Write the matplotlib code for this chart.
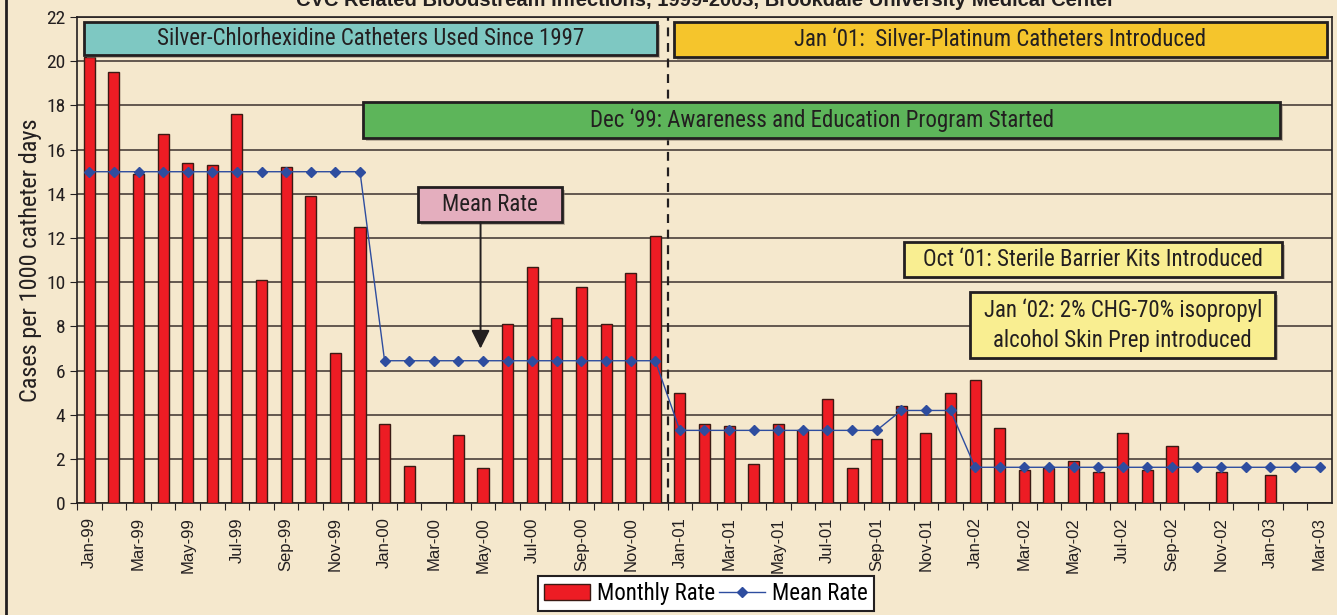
import numpy as np
import pandas as pd
import matplotlib
matplotlib.use("Agg")
import matplotlib.pyplot as plt
from matplotlib.patches import Rectangle
from matplotlib.lines import Line2D

# monthly data, Jan-99 .. Mar-03
months = pd.date_range("1999-01-01", periods=51, freq="MS").strftime("%b-%y").tolist()

monthly_rate = [20.2, 19.5, 14.9, 16.7, 15.4, 15.3, 17.6, 10.1, 15.2, 13.9, 6.8, 12.5,
                3.6, 1.7, 0.0, 3.1, 1.6, 8.1, 10.7, 8.4, 9.8, 8.1, 10.4, 12.1,
                5.0, 3.6, 3.5, 1.8, 3.6, 3.3, 4.7, 1.6, 2.9, 4.4, 3.2, 5.0,
                5.6, 3.4, 1.5, 1.6, 1.9, 1.4, 3.2, 1.5, 2.6, 0.0, 1.4, 0.0,
                1.3, 0.0, 0.0]

mean_rate = [15.0] * 12 + [6.45] * 12 + [3.3] * 9 + [4.2] * 3 + [1.63] * 15

title = "CVC Related Bloodstream Infections, 1999-2003, Brookdale University Medical Center"

bg = "#F5E8CD"
condensed = ["Liberation Sans Narrow", "Roboto Condensed", "Liberation Sans", "DejaVu Sans"]

fig = plt.figure(figsize=(13.37, 6.15), dpi=100, facecolor=bg)
ax = fig.add_axes([0.0576, 0.1816, 0.9386, 0.7908])
ax.set_facecolor(bg)

x = np.arange(len(months))
ax.bar(x, monthly_rate, width=0.45, color="#ED1C24", edgecolor="#3b1a14",
       linewidth=1.0, zorder=3)
ax.plot(x, mean_rate, color="#2E4D9F", lw=1.0, marker="D", ms=5,
        mec="#2E4D9F", mfc="#2E4D9F", zorder=4)

ax.set_xlim(-0.5, len(months) - 0.5)
ax.set_ylim(0, 22)
ax.set_yticks(np.arange(0, 23, 2))
ax.yaxis.grid(True, color="#4a3f3a", lw=1.2, zorder=1)
ax.set_axisbelow(True)

# ticks on boundaries, labels every other month
ax.set_xticks(x - 0.5, minor=False)
ax.set_xticklabels([])
ax.set_xticks(x[::2], minor=True)
ax.set_xticklabels(months[::2], minor=True, rotation=90, fontsize=12,
                   family=["Liberation Sans", "DejaVu Sans"], color="#231F20")
ax.tick_params(axis="x", which="minor", length=0, pad=10)
ax.tick_params(axis="x", which="major", length=5, direction="out", color="#231F20")
ax.tick_params(axis="y", length=5, color="#231F20", labelsize=14, labelcolor="#231F20")
for lab in ax.get_yticklabels():
    lab.set_family(condensed)

for s in ["left", "bottom", "top", "right"]:
    ax.spines[s].set_color("#231F20")
    ax.spines[s].set_linewidth(1.2)

ax.set_ylabel("Cases per 1000 catheter days", fontsize=17.5, family=condensed,
              color="#231F20", labelpad=3)

# divider between 2000 and 2001
ax.axvline(23.5, color="#231F20", ls=(0, (4, 3)), lw=1.6, zorder=5)

def box(x0, x1, y0, y1, color, text, fs=16.5):
    ax.add_patch(Rectangle((x0 + 0.12, y0 - 0.12), x1 - x0, y1 - y0,
                           facecolor="#8a7d6e", edgecolor="none", alpha=0.5, zorder=5))
    ax.add_patch(Rectangle((x0, y0), x1 - x0, y1 - y0, facecolor=color,
                           edgecolor="#231F20", lw=2, zorder=6))
    ax.text((x0 + x1) / 2, (y0 + y1) / 2, text, ha="center", va="center",
            fontsize=fs, family=condensed, color="#231F20", zorder=7,
            linespacing=1.4)

box(-0.2, 23.08, 20.28, 21.77, "#7EC8C2", "Silver-Chlorhexidine Catheters Used Since 1997")
box(23.77, 50.28, 20.19, 21.77, "#F5C52C", "Jan \u201801:  Silver-Platinum Catheters Introduced")
box(11.13, 48.4, 16.51, 18.15, "#5DB55A", "Dec \u201899: Awareness and Education Program Started")
box(13.36, 19.2, 12.71, 14.29, "#E4AEBE", "Mean Rate")
box(33.12, 48.48, 10.26, 11.8, "#F9EE91", "Oct \u201801: Sterile Barrier Kits Introduced")
box(35.8, 48.2, 6.59, 9.54, "#F9EE91",
    "Jan \u201802: 2% CHG-70% isopropyl\nalcohol Skin Prep introduced")

ax.annotate("", xy=(15.9, 7.0), xytext=(15.9, 12.71),
            arrowprops=dict(arrowstyle="-|>", color="#231F20", lw=1.4,
                            mutation_scale=28, shrinkA=0, shrinkB=0), zorder=7)

fig.text(0.528, 0.999, title, ha="center", va="center", fontsize=14.5,
         fontweight="bold", family=["Liberation Sans", "DejaVu Sans"], color="#231F20")

# left frame line
fig.add_artist(Line2D([0.0045, 0.0045], [0, 1], color="#231F20", lw=2,
                      transform=fig.transFigure))

handles = [Rectangle((0, 0), 1, 1, facecolor="#ED1C24", edgecolor="#3b1a14"),
           Line2D([], [], color="#2E4D9F", lw=1, marker="D", ms=5)]
leg = fig.legend(handles, ["Monthly Rate", "Mean Rate"], loc="center",
                 bbox_to_anchor=(0.528, 0.035), ncol=2, frameon=True, fancybox=False,
                 edgecolor="#231F20", framealpha=1, prop={"family": condensed, "size": 16.5},
                 handlelength=2.0, columnspacing=0.2, handletextpad=0.3,
                 borderpad=0.25)
leg.get_frame().set_linewidth(1.5)

fig.savefig("out.png", dpi=100, facecolor=bg)
